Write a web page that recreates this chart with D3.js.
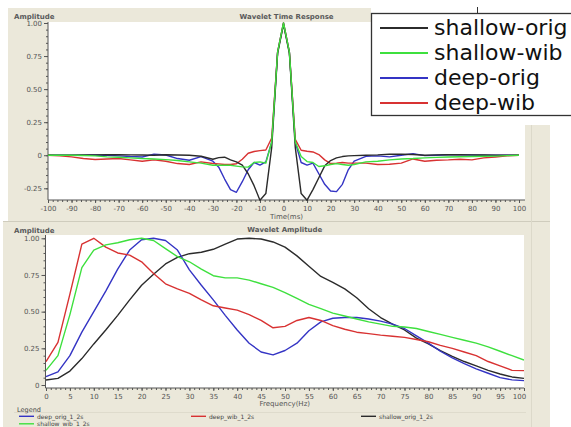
<!DOCTYPE html>
<html>
<head>
<meta charset="utf-8">
<script src="https://cdn.jsdelivr.net/npm/d3@7"></script>
<style>
  body { margin: 0; background: #fff; }
  svg { display: block; }
  text { font-family: "DejaVu Sans", sans-serif; }
</style>
</head>
<body>
<svg id="chart" width="571" height="427"></svg>
<script>
// ---- Wavelet time response (ms) ----
const timeMs = [-100,-95,-90,-85,-80,-75,-70,-65,-60,-55,-50,-45,-40,-35,
  -30,-27.5,-25,-22.5,-20,-17.5,-15,-12.5,-10,-7.5,-5,-2.5,0,2.5,5,7.5,10,12.5,15,17.5,20,22.5,25,27.5,30,
  35,40,45,50,55,60,65,70,75,80,85,90,95,100];

const shallowOrigTime = [0,0,0,0.002,0.003,0.004,0.004,0.003,0.002,0,0.004,0.002,0,-0.008,
  -0.03,-0.018,-0.015,-0.035,-0.05,-0.075,-0.14,-0.23,-0.34,-0.29,0.06,0.77,0.99,0.77,0.06,-0.29,-0.34,-0.26,-0.17,-0.08,-0.04,-0.02,-0.01,-0.005,-0.003,
  0,0.003,0.008,0.008,0.006,0,0.003,0.004,0.004,0.003,0.002,0.001,0,0];

const shallowWibTime = [0,0,0,-0.002,-0.005,-0.012,-0.015,-0.02,-0.025,-0.028,-0.033,-0.04,-0.05,-0.06,
  -0.076,-0.076,-0.075,-0.076,-0.082,-0.088,-0.09,-0.055,-0.05,-0.06,0.1,0.78,1.0,0.78,0.1,-0.01,-0.048,-0.055,-0.085,-0.08,-0.07,-0.063,-0.07,-0.076,-0.07,
  -0.05,-0.045,-0.035,-0.028,-0.025,-0.02,-0.016,-0.013,-0.011,-0.01,-0.008,-0.007,-0.003,0];

const deepOrigTime = [0,0,0,0,0.002,0,-0.005,-0.01,-0.013,0.008,0.002,-0.025,-0.038,-0.01,
  -0.045,-0.09,-0.18,-0.26,-0.28,-0.2,-0.11,-0.055,-0.075,-0.05,0.1,0.78,1.0,0.78,0.1,-0.055,-0.075,-0.06,-0.14,-0.22,-0.27,-0.275,-0.22,-0.11,-0.045,
  -0.008,-0.005,-0.012,0,0.012,-0.003,0,0.004,0.003,0.002,0,0,0,0];

const deepWibTime = [0,-0.005,-0.012,-0.025,-0.032,-0.028,-0.025,-0.035,-0.045,-0.035,-0.045,-0.063,-0.07,-0.05,
  -0.062,-0.065,-0.07,-0.07,-0.064,-0.03,0.015,0.028,0.035,0.04,0.13,0.78,1.0,0.78,0.12,0.038,0.03,0.025,0.005,-0.035,-0.063,-0.06,-0.055,-0.06,-0.06,
  -0.06,-0.07,-0.068,-0.06,-0.028,-0.045,-0.038,-0.035,-0.03,-0.035,-0.02,-0.013,-0.005,0];

const timeTicks = [-100,-90,-80,-70,-60,-50,-40,-30,-20,-10,0,10,20,30,40,50,60,70,80,90,100];
const timeAmpTicks = [-0.25,0,0.25,0.5,0.75,1.0];

// ---- Wavelet amplitude spectrum (Hz) ----
const freqHz = [0,2.5,5,7.5,10,12.5,15,17.5,20,22.5,25,27.5,30,32.5,35,37.5,40,42.5,45,47.5,
  50,52.5,55,57.5,60,62.5,65,67.5,70,72.5,75,77.5,80,82.5,85,87.5,90,92.5,95,97.5,100];

const deepOrigAmp = [0.057,0.09,0.2,0.36,0.5,0.64,0.79,0.92,0.99,1.0,0.985,0.92,0.785,0.68,0.58,0.475,0.375,0.285,0.225,0.205,
  0.235,0.285,0.37,0.43,0.455,0.46,0.46,0.45,0.435,0.415,0.385,0.335,0.285,0.23,0.185,0.145,0.11,0.08,0.05,0.035,0.03];

const deepWibAmp = [0.16,0.29,0.62,0.96,1.0,0.94,0.9,0.885,0.84,0.76,0.69,0.655,0.625,0.58,0.54,0.525,0.51,0.48,0.44,0.39,
  0.4,0.44,0.46,0.44,0.405,0.38,0.36,0.35,0.34,0.332,0.325,0.31,0.295,0.27,0.25,0.225,0.2,0.16,0.13,0.1,0.098];

const shallowOrigAmp = [0.034,0.045,0.095,0.18,0.28,0.375,0.475,0.58,0.68,0.755,0.825,0.87,0.895,0.905,0.925,0.96,0.995,1.0,0.995,0.975,
  0.94,0.88,0.81,0.74,0.7,0.655,0.595,0.52,0.46,0.415,0.375,0.32,0.28,0.235,0.195,0.16,0.13,0.1,0.075,0.055,0.045];

const shallowWibAmp = [0.1,0.2,0.48,0.8,0.92,0.955,0.97,0.99,1.0,0.985,0.93,0.875,0.84,0.79,0.745,0.73,0.73,0.715,0.69,0.665,
  0.63,0.59,0.55,0.52,0.49,0.47,0.45,0.43,0.415,0.4,0.395,0.385,0.365,0.345,0.325,0.305,0.285,0.26,0.23,0.2,0.17];

const freqTicks = [0,5,10,15,20,25,30,35,40,45,50,55,60,65,70,75,80,85,90,95,100];
const freqAmpTicks = [0,0.25,0.5,0.75,1.0];

const bigLegendNames = ["shallow-orig","shallow-wib","deep-orig","deep-wib"];
const smallLegendNames = ["deep_orig_1_2s","deep_wib_1_2s","shallow_orig_1_2s","shallow_wib_1_2s"];

const COL = { black: "#2b2b2b", green: "#3ee03e", blue: "#3434c4", red: "#d83232" };
const PANEL = "#ebe8da";
const AXIS = "#555";

const svg = d3.select("#chart");

// ---------- panels ----------
svg.append("rect").attr("x", 8).attr("y", 8).attr("width", 542).attr("height", 213).attr("fill", PANEL);
svg.append("rect").attr("x", 3).attr("y", 222).attr("width", 547).attr("height", 205).attr("fill", PANEL);
svg.append("line").attr("x1", 3).attr("x2", 550).attr("y1", 221.5).attr("y2", 221.5).attr("stroke", "#cfccbd");
svg.append("line").attr("x1", 531.5).attr("x2", 531.5).attr("y1", 125).attr("y2", 427).attr("stroke", "#dcd9ca");

const fmtAmp = v => v === 0 ? "0" : d3.format(".2f")(v).replace("\u2212", "-");
const fmtInt = v => String(v);

function styleAxis(g) {
  g.selectAll("path.domain").attr("stroke", AXIS);
  g.selectAll(".tick line").attr("stroke", AXIS);
  g.selectAll(".tick text").attr("fill", AXIS).attr("font-size", 7)
    .attr("font-family", "DejaVu Sans, sans-serif");
}

function drawPanel(opt) {
  const { x, y, plot, xTicks, xMinorStep, yTicks, yMinorStep, series, title, xTitle, titleY, ampY, xFmt, xLabelY } = opt;
  svg.append("rect").attr("x", plot.x0).attr("y", plot.y0)
    .attr("width", plot.x1 - plot.x0).attr("height", plot.y1 - plot.y0).attr("fill", "#fff");

  const [d0, d1] = x.domain();
  const [r0, r1] = y.domain();

  // x axis: minor then major
  const gxm = svg.append("g").attr("transform", `translate(0,${plot.y1})`)
    .call(d3.axisBottom(x).tickValues(d3.range(d0, d1 + 0.001, xMinorStep)).tickSize(2).tickFormat(""));
  gxm.select("path.domain").remove();
  styleAxis(gxm);
  const gx = svg.append("g").attr("transform", `translate(0,${plot.y1})`)
    .call(d3.axisBottom(x).tickValues(xTicks).tickSize(3).tickSizeOuter(0).tickPadding(3).tickFormat(xFmt));
  gx.select("path.domain").attr("d", `M${plot.x0},0H${plot.x1}`);
  styleAxis(gx);
  gx.selectAll(".tick text").filter(d => d === d1 && x(d1) > plot.x1 - 4).attr("dx", -5);

  // y axis: minor then major
  const gym = svg.append("g").attr("transform", `translate(${plot.x0},0)`)
    .call(d3.axisLeft(y).tickValues(d3.range(Math.ceil(r0 / yMinorStep) * yMinorStep, r1 + 0.001, yMinorStep)).tickSize(2).tickFormat(""));
  gym.select("path.domain").remove();
  styleAxis(gym);
  const gy = svg.append("g").attr("transform", `translate(${plot.x0},0)`)
    .call(d3.axisLeft(y).tickValues(yTicks).tickSize(4).tickSizeOuter(0).tickPadding(2).tickFormat(fmtAmp));
  gy.select("path.domain").attr("d", `M0,${plot.y0}V${plot.y1}`);
  styleAxis(gy);

  // titles
  svg.append("text").attr("x", (plot.x0 + plot.x1) / 2).attr("y", titleY).attr("text-anchor", "middle")
    .attr("font-size", 7).attr("font-weight", "bold").attr("fill", "#5a5a5a").text(title);
  svg.append("text").attr("x", 14).attr("y", ampY).attr("font-size", 7).attr("font-weight", "bold")
    .attr("fill", "#5a5a5a").text("Amplitude");
  svg.append("text").attr("x", (plot.x0 + plot.x1) / 2).attr("y", xLabelY).attr("text-anchor", "middle")
    .attr("font-size", 7).attr("fill", AXIS).text(xTitle);

  // curves
  const clipId = "clip" + Math.round(plot.y0);
  svg.append("clipPath").attr("id", clipId).append("rect")
    .attr("x", plot.x0).attr("y", plot.y0 - 2).attr("width", plot.x1 - plot.x0).attr("height", plot.y1 - plot.y0 + 3);
  const g = svg.append("g").attr("clip-path", `url(#${clipId})`);
  series.forEach(s => {
    const line = d3.line().x((d, i) => x(s.xs[i])).y(d => y(d));
    g.append("path").datum(s.values).attr("d", line).attr("fill", "none")
      .attr("stroke", s.color).attr("stroke-width", 1.4).attr("stroke-linejoin", "round");
  });
}

// ---------- top: time response ----------
const xT = d3.scaleLinear().domain([-100, 100]).range([48, 519]);
const yT = d3.scaleLinear().domain([-0.25, 1.0]).range([188.3, 23]);
drawPanel({
  x: xT, y: yT,
  plot: { x0: 48, x1: 525, y0: 22, y1: 200 },
  xTicks: timeTicks, xMinorStep: 2, yTicks: timeAmpTicks, yMinorStep: 0.05,
  series: [
    { xs: timeMs, values: deepOrigTime, color: COL.blue },
    { xs: timeMs, values: deepWibTime, color: COL.red },
    { xs: timeMs, values: shallowOrigTime, color: COL.black },
    { xs: timeMs, values: shallowWibTime, color: COL.green }
  ],
  title: "Wavelet Time Response", xTitle: "Time(ms)", titleY: 19, ampY: 19, xFmt: fmtInt, xLabelY: 219
});

// ---------- bottom: amplitude spectrum ----------
const xF = d3.scaleLinear().domain([0, 100]).range([46, 524]);
const yF = d3.scaleLinear().domain([0, 1.0]).range([385, 238.3]);
drawPanel({
  x: xF, y: yF,
  plot: { x0: 45.5, x1: 524, y0: 235, y1: 388 },
  xTicks: freqTicks, xMinorStep: 1, yTicks: freqAmpTicks, yMinorStep: 0.05,
  series: [
    { xs: freqHz, values: shallowOrigAmp, color: COL.black },
    { xs: freqHz, values: deepOrigAmp, color: COL.blue },
    { xs: freqHz, values: deepWibAmp, color: COL.red },
    { xs: freqHz, values: shallowWibAmp, color: COL.green }
  ],
  title: "Wavelet Amplitude", xTitle: "Frequency(Hz)", titleY: 232, ampY: 233, xFmt: fmtInt, xLabelY: 406
});

// ---------- small legend under the spectrum ----------
svg.append("line").attr("x1", 14).attr("x2", 526).attr("y1", 412.5).attr("y2", 412.5).attr("stroke", "#dedbcc");
svg.append("text").attr("x", 17).attr("y", 411.5).attr("font-size", 6.5).attr("fill", "#444").text("Legend");
const smallCols = [COL.blue, COL.red, COL.black, COL.green];
const smallPos = [[19, 418.5], [191, 418.5], [361, 418.5], [19, 426]];
smallLegendNames.forEach((name, i) => {
  const [lx, ly] = smallPos[i];
  svg.append("line").attr("x1", lx).attr("x2", lx + 15).attr("y1", ly - 2.2).attr("y2", ly - 2.2)
    .attr("stroke", smallCols[i]).attr("stroke-width", 1.4);
  svg.append("text").attr("x", lx + 18).attr("y", ly).attr("font-size", 6).attr("fill", "#444").text(name);
});

// ---------- large legend box ----------
svg.append("rect").attr("x", 371).attr("y", 0).attr("width", 200).attr("height", 125).attr("fill", "#fff");
svg.append("line").attr("x1", 477.5).attr("x2", 477.5).attr("y1", 7).attr("y2", 13).attr("stroke", "#333").attr("stroke-width", 1);
svg.append("rect").attr("x", 371.5).attr("y", 13.5).attr("width", 210).attr("height", 102)
  .attr("fill", "#fff").attr("stroke", "#333").attr("stroke-width", 1.3);
const bigCols = [COL.black, COL.green, COL.blue, COL.red];
bigLegendNames.forEach((name, i) => {
  const by = 35 + i * 25;
  svg.append("line").attr("x1", 380).attr("x2", 428).attr("y1", by - 7).attr("y2", by - 7)
    .attr("stroke", bigCols[i]).attr("stroke-width", 2);
  svg.append("text").attr("x", 434).attr("y", by).attr("font-size", 22).attr("fill", "#111").text(name);
});
</script>
</body>
</html>
